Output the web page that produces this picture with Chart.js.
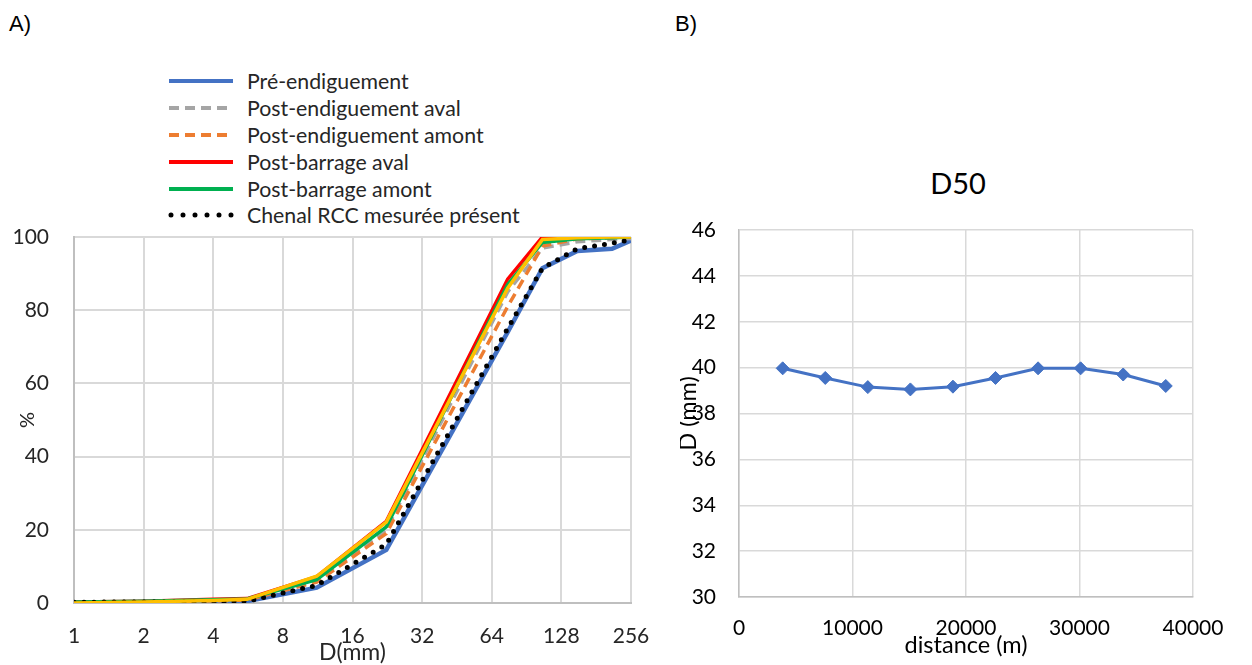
<!DOCTYPE html>
<html>
<head>
<meta charset="utf-8">
<script src="https://cdn.jsdelivr.net/npm/chart.js@4.4.1/dist/chart.umd.min.js"></script>
<style>
  body { margin: 0; background: #fff; }
  #wrap { position: relative; width: 1252px; height: 665px; overflow: hidden; font-family: Lato, sans-serif; }
  .panel { position: absolute; font-family: "Liberation Sans", Arial, sans-serif; font-size: 22px; color: #000; }
  #legend { position: absolute; left: 168px; top: 68px; }
  .row { display: flex; align-items: center; height: 26.8px; font-size: 21.3px; color: #262626; }
  .row svg { width: 66px; height: 10px; margin-right: 13px; }
  #d50title { position: absolute; left: 858px; width: 200px; top: 165px; text-align: center; font-size: 29px; line-height: 35px; color: #000; }
  #left { position: absolute; left: 0; top: 215px; width: 650px; height: 450px; }
  #right { position: absolute; left: 680px; top: 140px; width: 572px; height: 525px; }
</style>
</head>
<body>
<div id="wrap">
  <div class="panel" style="left:9px;top:11px;">A)</div>
  <div class="panel" style="left:675px;top:11px;">B)</div>
  <div id="legend"></div>
  <div id="d50title">D50</div>
  <div id="left"><canvas id="gsd"></canvas></div>
  <div id="right"><canvas id="d50"></canvas></div>
</div>
<script>
// Grain size curves (A)
const sizesMm = [1, 2, 4, 5.6, 11.2, 22.4, 75, 106, 150, 212, 256];
const xTicks = [1, 2, 4, 8, 16, 32, 64, 128, 256];
const preEndiguement = [0, 0, 0.3, 0.5, 4.2, 14.5, 74, 91.5, 96.2, 96.8, 99];
const postEndigAval = [0.3, 0.4, 0.8, 1, 6, 20, 85, 97, 98.7, 99.3, 99.6];
const postEndigAmont = [0.2, 0.3, 0.6, 0.8, 5.7, 19, 81, 97.5, 99.5, 99.8, 100];
const postBarrageAval = [0.3, 0.5, 1, 1.2, 7.2, 22.3, 88.5, 100, 100, 100, 100];
const postBarrageAmont = [0.3, 0.5, 0.9, 1.1, 6.4, 20.8, 87, 98.5, 99.5, 99.8, 100];
const chenalRCC = [0.2, 0.3, 0.3, 0.5, 4.8, 16, 75, 91.5, 96.8, 98.3, 99.2];
const unlabelled = [0, 0.3, 0.7, 1, 7.3, 22.1, 86, 99.3, 99.8, 100, 100];

// D50 along the reach (B)
const distances = [3850, 7600, 11350, 15100, 18850, 22600, 26350, 30100, 33850, 37600];
const d50Values = [39.97, 39.55, 39.15, 39.05, 39.17, 39.55, 39.97, 39.97, 39.7, 39.2];

const series = [
    { label: 'Pré-endiguement', data: preEndiguement, color: '#4472c4', width: 4.5, dash: [], order: 6 },
    { label: 'Post-endiguement aval', data: postEndigAval, color: '#a5a5a5', width: 3.5, dash: [10, 6], order: 5 },
    { label: 'Post-endiguement amont', data: postEndigAmont, color: '#ed7d31', width: 3.5, dash: [10, 6], order: 4 },
    { label: 'Post-barrage aval', data: postBarrageAval, color: '#ff0000', width: 3.5, dash: [], order: 3 },
    { label: 'Post-barrage amont', data: postBarrageAmont, color: '#00b050', width: 3.5, dash: [], order: 2 },
    { label: 'Chenal RCC mesurée présent', data: chenalRCC, color: '#000000', width: 5, dash: [0, 10], cap: 'round', order: 1 },
    { label: '', data: unlabelled, color: '#ffc000', width: 3.5, dash: [], order: 0, hidden: true }
];

// HTML legend (the yellow series has no entry)
const legendEl = document.getElementById('legend');
series.filter(s => !s.hidden).forEach(s => {
    const row = document.createElement('div');
    row.className = 'row';
    const dash = s.dash.length ? `stroke-dasharray="${s.cap ? '0 12' : '10 6'}"` : '';
    const cap = s.cap ? 'round' : 'butt';
    row.innerHTML = `<svg viewBox="0 0 66 10"><line x1="${s.cap ? 3 : 1}" y1="5" x2="65" y2="5" stroke="${s.color}" stroke-width="${s.cap ? 5 : 4}" stroke-linecap="${cap}" ${dash}/></svg><span>${s.label}</span>`;
    legendEl.appendChild(row);
});

const tickFont = { family: 'Lato', size: 21 };
const gridColor = '#d9d9d9';

new Chart(document.getElementById('gsd'), {
    type: 'line',
    data: {
        datasets: series.map(s => ({
            label: s.label,
            data: sizesMm.map((x, i) => ({ x: x, y: s.data[i] })),
            borderColor: s.color,
            backgroundColor: s.color,
            borderWidth: s.width,
            borderDash: s.dash,
            borderCapStyle: s.cap || 'butt',
            pointRadius: 0,
            tension: 0,
            order: s.order
        }))
    },
    options: {
        responsive: true,
        maintainAspectRatio: false,
        animation: false,
        layout: { padding: { left: 0, right: 19, top: 22, bottom: 0 } },
        plugins: { legend: { display: false }, tooltip: { enabled: false } },
        scales: {
            x: {
                type: 'logarithmic',
                min: 1,
                max: 256,
                afterBuildTicks: scale => { scale.ticks = xTicks.map(v => ({ value: v })); },
                afterFit: scale => { scale.height = 62; scale.paddingLeft = 0; scale.paddingRight = 0; },
                ticks: { color: '#262626', font: tickFont, padding: 21, maxRotation: 0, callback: v => String(v) },
                grid: { color: gridColor, lineWidth: 2, drawTicks: false },
                border: { color: '#bfbfbf', width: 2 },
                title: { display: true, text: 'D(mm)', color: '#262626', font: { family: 'Lato', size: 23 }, padding: { top: 0, bottom: -1.5 } }
            },
            y: {
                min: 0,
                max: 100,
                afterFit: scale => { scale.width = 74; scale.paddingTop = 0; scale.paddingBottom = 0; },
                ticks: { stepSize: 20, color: '#262626', font: tickFont, padding: 25 },
                grid: { color: gridColor, lineWidth: 2, drawTicks: false },
                border: { color: '#bfbfbf', width: 2 },
                title: { display: true, text: '%', color: '#262626', font: { family: 'Lato', size: 20 }, padding: { top: 16, bottom: 0 } }
            }
        }
    }
});

new Chart(document.getElementById('d50'), {
    type: 'line',
    data: {
        datasets: [{
            label: 'D50',
            data: distances.map((x, i) => ({ x: x, y: d50Values[i] })),
            borderColor: '#4472c4',
            backgroundColor: '#4472c4',
            borderWidth: 3,
            pointStyle: 'rectRot',
            pointRadius: 6.5,
            pointBorderWidth: 1,
            tension: 0
        }]
    },
    options: {
        responsive: true,
        maintainAspectRatio: false,
        animation: false,
        layout: { padding: { left: 0, right: 59, top: 90, bottom: 0 } },
        plugins: {
            legend: { display: false },
            tooltip: { enabled: false },
            title: { display: false } // title is the HTML div above the plot
        },
        scales: {
            x: {
                type: 'linear',
                min: 0,
                max: 40000,
                afterFit: scale => { scale.height = 68; scale.paddingLeft = 0; scale.paddingRight = 0; },
                ticks: { stepSize: 10000, color: '#000', font: tickFont, padding: 19, maxRotation: 0, callback: v => String(v) },
                grid: { color: gridColor, lineWidth: 1.5, drawTicks: false },
                border: { color: '#bfbfbf', width: 1.5 },
                title: { display: true, text: 'distance (m)', color: '#000', font: { family: 'Lato', size: 23.5 }, padding: { top: 0, bottom: 5 } }
            },
            y: {
                min: 30,
                max: 46,
                afterFit: scale => { scale.width = 59; scale.paddingTop = 0; scale.paddingBottom = 0; },
                ticks: { stepSize: 2, color: '#000', font: tickFont, padding: 23 },
                grid: { color: gridColor, lineWidth: 1.5, drawTicks: false },
                border: { color: '#bfbfbf', width: 1.5 },
                title: { display: true, text: 'D (mm)', color: '#000', font: { family: 'Lato', size: 23.5 }, padding: { top: -6, bottom: 0 } }
            }
        }
    }
});
</script>
</body>
</html>
